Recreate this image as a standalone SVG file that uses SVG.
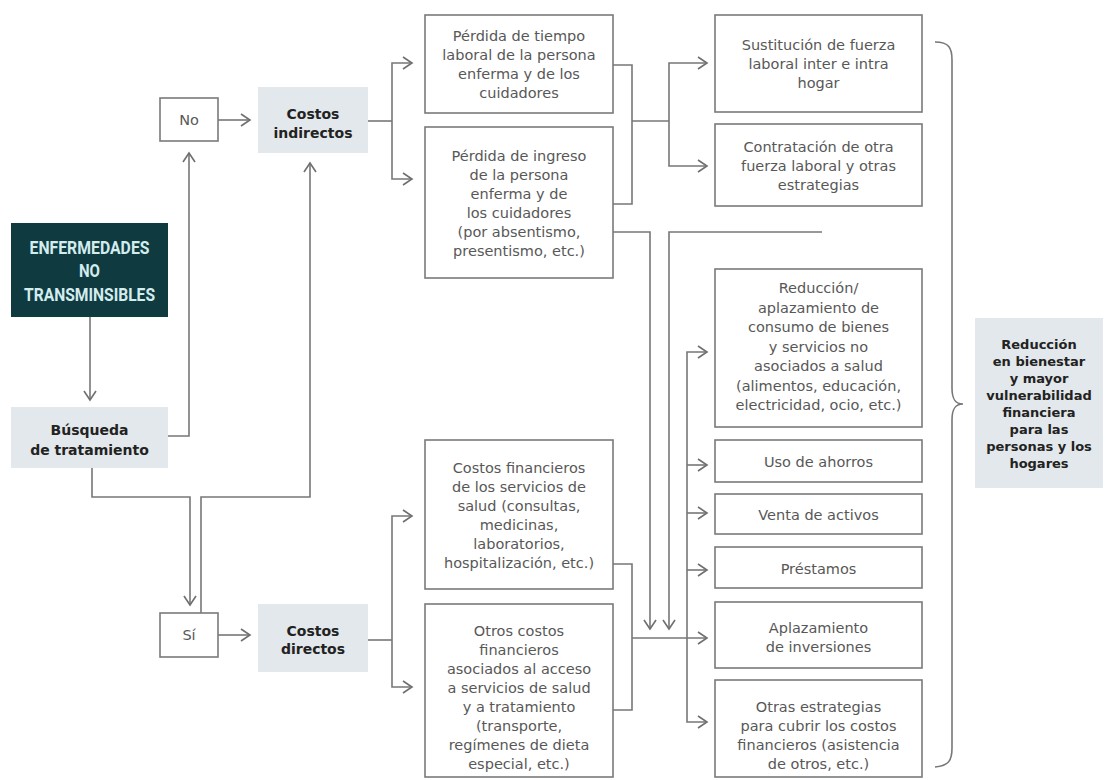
<svg xmlns="http://www.w3.org/2000/svg" width="1105" height="780" viewBox="0 0 1105 780">
<defs>
<marker id="ah" viewBox="-11 -8 13 16" refX="0" refY="0" markerWidth="13" markerHeight="16" markerUnits="userSpaceOnUse" orient="auto">
<path d="M-9,-6 L0,0 L-9,6" fill="none" stroke="#6f6f6f" stroke-width="1.6" stroke-linejoin="miter"/>
</marker>
<style>
.bx{fill:#fff;stroke:#7a7a7a;stroke-width:1.6}
.lt{fill:#e2e8eb;stroke:none}
.t{font-family:"DejaVu Sans","Liberation Sans",sans-serif;font-size:14.5px;fill:#585858;text-anchor:middle}
.b{font-family:"DejaVu Sans","Liberation Sans",sans-serif;font-size:14px;font-weight:700;fill:#222;text-anchor:middle}
.c{fill:none;stroke:#777;stroke-width:1.6}
.a{marker-end:url(#ah)}
</style>
</defs>
<rect width="1105" height="780" fill="#fff"/>

<g id="connectors">
<path class="c a" d="M90,317 V400"/>
<path class="c a" d="M168,436 H189 V153"/>
<path class="c a" d="M92,468 V497 H190 V605"/>
<path class="c a" d="M201,613 V497 H310 V163"/>
<path class="c a" d="M218,120 H250"/>
<path class="c a" d="M218,635 H250"/>
<path class="c" d="M368,121 H392"/>
<path class="c a" d="M392,121 V63 H412"/>
<path class="c a" d="M392,121 V179 H412"/>
<path class="c" d="M368,640 H392"/>
<path class="c a" d="M392,640 V516 H412"/>
<path class="c a" d="M392,640 V687 H412"/>
<path class="c" d="M613,65 H632 V204 H613"/>
<path class="c" d="M632,121 H669"/>
<path class="c a" d="M669,121 V63 H707"/>
<path class="c a" d="M669,121 V166 H707"/>
<path class="c a" d="M613,232 H650 V629"/>
<path class="c a" d="M822,232 H669 V629"/>
<path class="c" d="M613,564 H632 V710 H613"/>
<path class="c a" d="M632,638 H707"/>
<path class="c a" d="M687,638 V352 H707"/>
<path class="c a" d="M687,638 V722 H707"/>
<path class="c a" d="M687,465 H707"/>
<path class="c a" d="M687,513 H707"/>
<path class="c a" d="M687,570 H707"/>
<path class="c" d="M935,42 C949,42 952,48 952,60 V388 C952,399 955,404 963,404 C955,404 952,409 952,420 V748 C952,760 949,766 935,767"/>
</g>

<g id="enfermedades">
<rect x="11" y="223" width="157" height="94" fill="#0f3b40"/>
<g font-family="Roboto,'Liberation Sans',sans-serif" font-weight="700" font-size="18" fill="#d3ecee" text-anchor="middle">
<text x="89.5" y="253.5" textLength="120" lengthAdjust="spacingAndGlyphs">ENFERMEDADES</text>
<text x="89.5" y="277" textLength="21" lengthAdjust="spacingAndGlyphs">NO</text>
<text x="89.5" y="300.5" textLength="131" lengthAdjust="spacingAndGlyphs">TRANSMINSIBLES</text>
</g>
</g>

<g id="busqueda">
<rect class="lt" x="11" y="407" width="157" height="61"/>
<text class="b" x="89.5" y="434.5">Búsqueda</text>
<text class="b" x="89.5" y="454.5">de tratamiento</text>
</g>

<g id="no">
<rect class="bx" x="160" y="98" width="58" height="43"/>
<text class="t" x="189" y="125" font-size="15">No</text>
</g>

<g id="si">
<rect class="bx" x="160" y="613" width="58" height="44"/>
<text class="t" x="189" y="640" font-size="15">Sí</text>
</g>

<g id="costos-indirectos">
<rect class="lt" x="258" y="87" width="110" height="66"/>
<text class="b" x="313" y="118.5">Costos</text>
<text class="b" x="313" y="137.5">indirectos</text>
</g>

<g id="costos-directos">
<rect class="lt" x="258" y="604" width="110" height="68"/>
<text class="b" x="313" y="635.5">Costos</text>
<text class="b" x="313" y="653.5">directos</text>
</g>

<g id="perdida-tiempo">
<rect class="bx" x="425" y="15" width="188" height="98"/>
<text class="t" x="519" y="41">Pérdida de tiempo</text>
<text class="t" x="519" y="60">laboral de la persona</text>
<text class="t" x="519" y="79">enferma y de los</text>
<text class="t" x="519" y="98">cuidadores</text>
</g>

<g id="perdida-ingreso">
<rect class="bx" x="425" y="127" width="188" height="151"/>
<text class="t" x="519" y="160.5">Pérdida de ingreso</text>
<text class="t" x="519" y="179.5">de la persona</text>
<text class="t" x="519" y="198.5">enferma y de</text>
<text class="t" x="519" y="217.5">los cuidadores</text>
<text class="t" x="519" y="236.5">(por absentismo,</text>
<text class="t" x="519" y="255.5">presentismo, etc.)</text>
</g>

<g id="costos-financieros">
<rect class="bx" x="425" y="440" width="188" height="149"/>
<text class="t" x="519" y="472.5">Costos financieros</text>
<text class="t" x="519" y="491.5">de los servicios de</text>
<text class="t" x="519" y="510.5">salud (consultas,</text>
<text class="t" x="519" y="529.5">medicinas,</text>
<text class="t" x="519" y="548.5">laboratorios,</text>
<text class="t" x="519" y="567.5">hospitalización, etc.)</text>
</g>

<g id="otros-costos">
<rect class="bx" x="425" y="604" width="188" height="173"/>
<text class="t" x="519" y="635.5">Otros costos</text>
<text class="t" x="519" y="654.5">financieros</text>
<text class="t" x="519" y="673.5">asociados al acceso</text>
<text class="t" x="519" y="692.5">a servicios de salud</text>
<text class="t" x="519" y="711.5">y a tratamiento</text>
<text class="t" x="519" y="730.5">(transporte,</text>
<text class="t" x="519" y="749.5">regímenes de dieta</text>
<text class="t" x="519" y="768.5">especial, etc.)</text>
</g>

<g id="sustitucion">
<rect class="bx" x="715" y="15" width="207" height="97"/>
<text class="t" x="818.5" y="50">Sustitución de fuerza</text>
<text class="t" x="818.5" y="69">laboral inter e intra</text>
<text class="t" x="818.5" y="88">hogar</text>
</g>

<g id="contratacion">
<rect class="bx" x="715" y="124" width="207" height="82"/>
<text class="t" x="818.5" y="152">Contratación de otra</text>
<text class="t" x="818.5" y="171">fuerza laboral y otras</text>
<text class="t" x="818.5" y="190">estrategias</text>
</g>

<g id="reduccion-consumo">
<rect class="bx" x="715" y="269" width="207" height="158"/>
<text class="t" x="818.5" y="293">Reducción/</text>
<text class="t" x="818.5" y="312.5">aplazamiento de</text>
<text class="t" x="818.5" y="332">consumo de bienes</text>
<text class="t" x="818.5" y="351.5">y servicios no</text>
<text class="t" x="818.5" y="371">asociados a salud</text>
<text class="t" x="818.5" y="390.5">(alimentos, educación,</text>
<text class="t" x="818.5" y="410">electricidad, ocio, etc.)</text>
</g>

<g id="uso-ahorros">
<rect class="bx" x="715" y="440" width="207" height="42"/>
<text class="t" x="818.5" y="466.5">Uso de ahorros</text>
</g>

<g id="venta-activos">
<rect class="bx" x="715" y="494" width="207" height="40"/>
<text class="t" x="818.5" y="519.5">Venta de activos</text>
</g>

<g id="prestamos">
<rect class="bx" x="715" y="547" width="207" height="41"/>
<text class="t" x="818.5" y="573.5">Préstamos</text>
</g>

<g id="aplazamiento">
<rect class="bx" x="715" y="602" width="207" height="66"/>
<text class="t" x="818.5" y="632.5">Aplazamiento</text>
<text class="t" x="818.5" y="651.5">de inversiones</text>
</g>

<g id="otras-estrategias">
<rect class="bx" x="715" y="680" width="207" height="97"/>
<text class="t" x="818.5" y="711.5">Otras estrategias</text>
<text class="t" x="818.5" y="730.5">para cubrir los costos</text>
<text class="t" x="818.5" y="749.5">financieros (asistencia</text>
<text class="t" x="818.5" y="768.5">de otros, etc.)</text>
</g>

<g id="resultado">
<rect class="lt" x="975" y="318" width="128" height="170"/>
<g font-family="'DejaVu Sans','Liberation Sans',sans-serif" font-size="13" font-weight="700" fill="#222" text-anchor="middle">
<text x="1039" y="348.5">Reducción</text>
<text x="1039" y="365.5">en bienestar</text>
<text x="1039" y="382.5">y mayor</text>
<text x="1039" y="399.5">vulnerabilidad</text>
<text x="1039" y="416.5">financiera</text>
<text x="1039" y="433.5">para las</text>
<text x="1039" y="450.5">personas y los</text>
<text x="1039" y="467.5">hogares</text>
</g>
</g>
</svg>
